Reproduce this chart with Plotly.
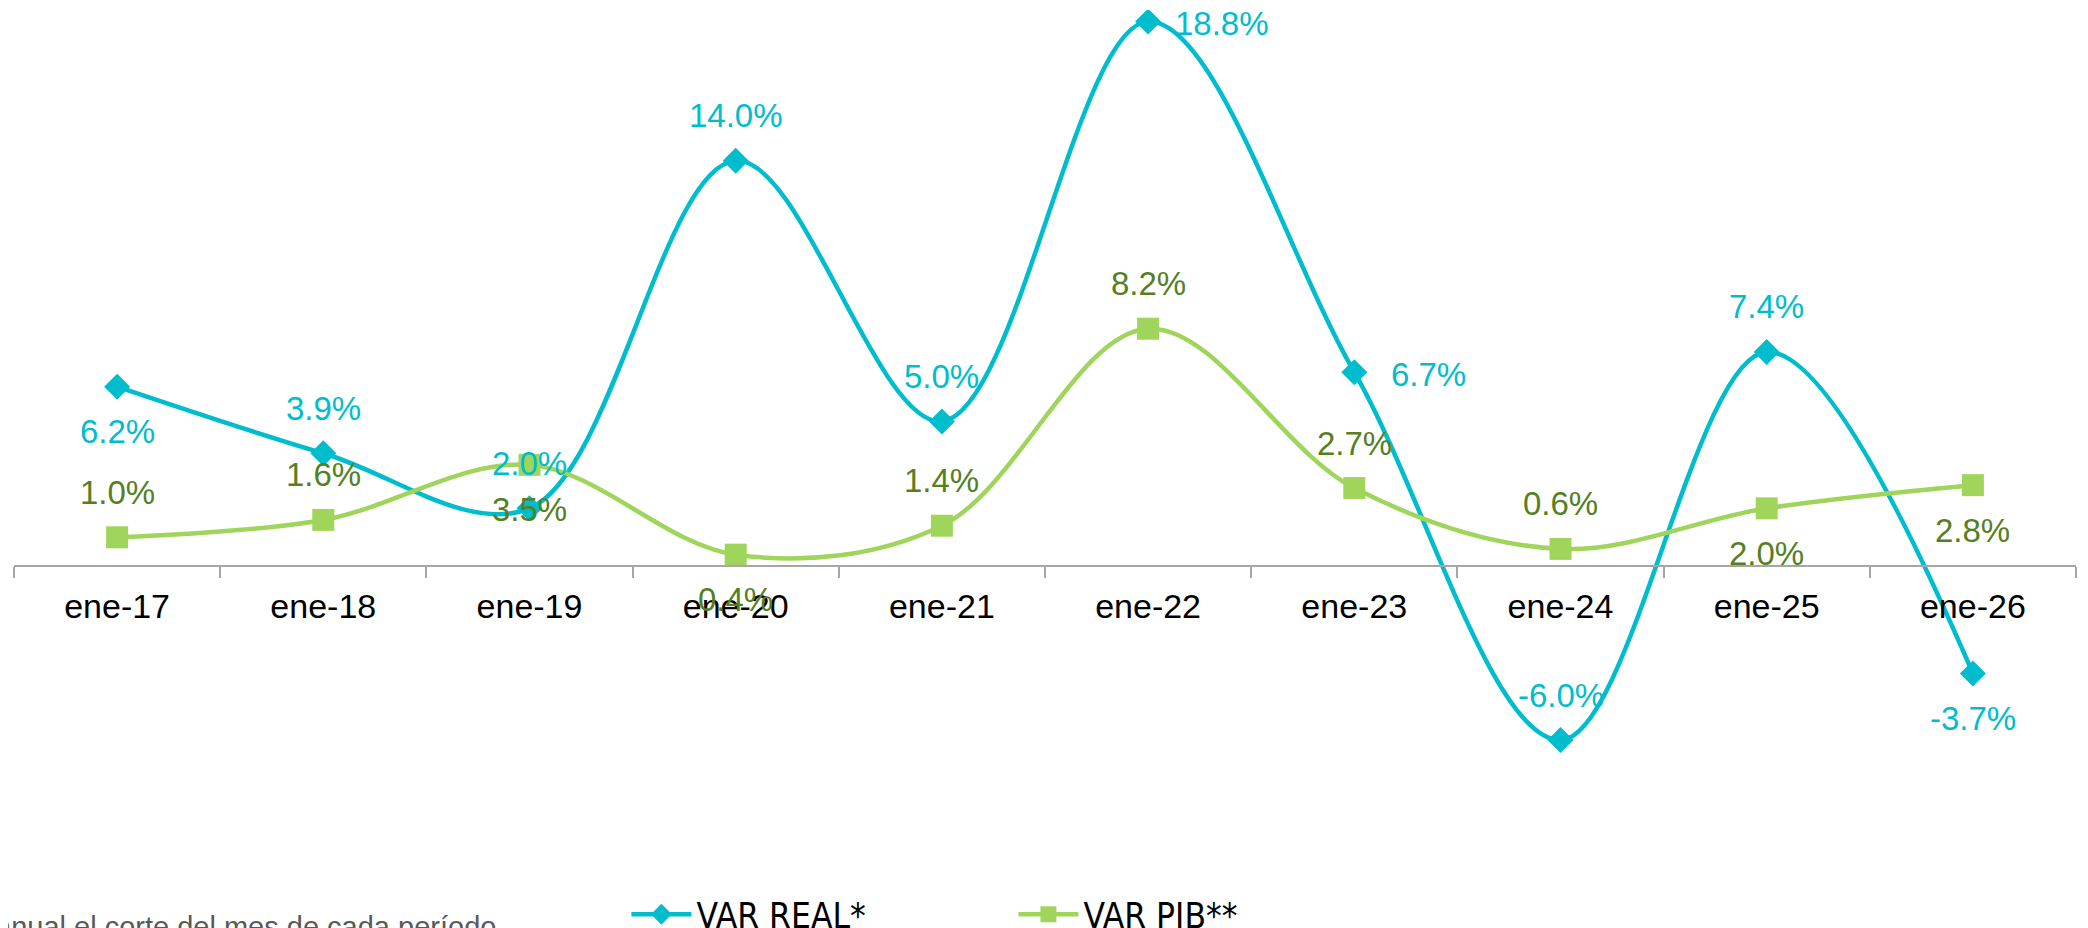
import plotly.graph_objects as go

# Datos
periodos = ['ene-17', 'ene-18', 'ene-19', 'ene-20', 'ene-21',
            'ene-22', 'ene-23', 'ene-24', 'ene-25', 'ene-26']
var_real = [6.2, 3.9, 2.0, 14.0, 5.0, 18.8, 6.7, -6.0, 7.4, -3.7]
var_pib = [1.0, 1.6, 3.5, 0.4, 1.4, 8.2, 2.7, 0.6, 2.0, 2.8]

# posicion de cada etiqueta respecto al punto
pos_real = ['below', 'above', 'above', 'above', 'above',
            'right', 'right', 'above', 'above', 'below']
pos_pib = ['above', 'above', 'below', 'below', 'above',
           'above', 'above', 'above', 'below', 'below']

CYAN = '#00BDCE'
GREEN = '#A0D55B'
DARK_GREEN = '#55801F'
AXIS_GRAY = '#A6A6A6'

W, H = 2088, 928
M_L, M_R, M_T, M_B = 6, 20, 2, 80
Y_MIN, Y_MAX = -10, 19.2
plot_w = W - M_L - M_R
plot_h = H - M_T - M_B

fig = go.Figure()

fig.add_trace(go.Scatter(
    x=periodos, y=var_real, name='VAR REAL*',
    mode='lines+markers',
    line=dict(color=CYAN, width=4.5, shape='spline', smoothing=1.0),
    marker=dict(symbol='diamond', size=20, color=CYAN),
))

fig.add_trace(go.Scatter(
    x=periodos, y=var_pib, name='VAR PIB**',
    mode='lines+markers',
    line=dict(color=GREEN, width=4.5, shape='spline', smoothing=1.0),
    marker=dict(symbol='square', size=22, color=GREEN),
))


def shift_for(pos):
    if pos == 'above':
        return 0, 45
    if pos == 'below':
        return 0, -45
    return 74, -2


annotations = []
for vals, poss, color in [(var_real, pos_real, CYAN), (var_pib, pos_pib, DARK_GREEN)]:
    for cat, v, p in zip(periodos, vals, poss):
        xs, ys = shift_for(p)
        annotations.append(dict(
            x=cat, y=v, xref='x', yref='y',
            text=f'{v:.1f}%', showarrow=False,
            xshift=xs, yshift=ys,
            font=dict(family='Liberation Sans, Arial', size=33, color=color),
        ))

# nota al pie (cortada en el original)
annotations.append(dict(
    x=(490 - M_L) / plot_w, y=(M_T + plot_h - 901) / plot_h,
    xref='paper', yref='paper',
    text='anual el corte del mes de cada período', showarrow=False,
    xanchor='right', yanchor='top',
    font=dict(family='Liberation Sans, Arial', size=29, color='#595959'),
))

fig.update_layout(
    width=W, height=H,
    plot_bgcolor='white', paper_bgcolor='white',
    margin=dict(l=M_L, r=M_R, t=M_T, b=M_B, autoexpand=False),
    showlegend=True,
    legend=dict(
        orientation='h',
        x=0.297, xanchor='left',
        y=(M_T + plot_h - 877) / plot_h, yanchor='top',
        font=dict(family='DejaVu Sans Condensed, DejaVu Sans', size=35, color='black'),
        itemwidth=60,
        entrywidth=312,
        bgcolor='rgba(0,0,0,0)',
    ),
    xaxis=dict(
        type='category',
        range=[-0.5, len(periodos) - 0.5],
        anchor='free',
        position=(0 - Y_MIN) / (Y_MAX - Y_MIN),
        showline=True, linecolor=AXIS_GRAY, linewidth=2,
        ticks='outside', tickson='boundaries', ticklen=11,
        tickcolor=AXIS_GRAY, tickwidth=2,
        ticklabelstandoff=10,
        tickfont=dict(family='Liberation Sans, Arial', size=34, color='black'),
        showgrid=False, zeroline=False,
    ),
    yaxis=dict(
        range=[Y_MIN, Y_MAX],
        visible=False, showgrid=False, zeroline=False,
    ),
    annotations=annotations,
)

fig.write_html('out.html')
